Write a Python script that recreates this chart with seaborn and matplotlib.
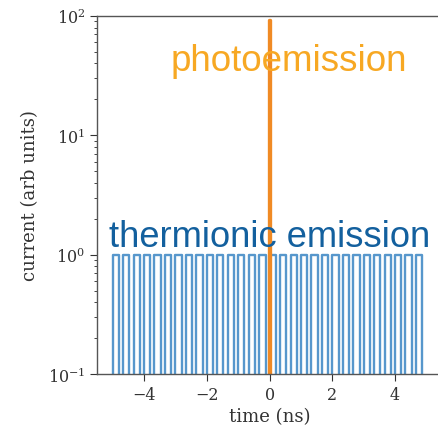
import matplotlib
matplotlib.use("agg")
import matplotlib.pyplot as plt
import numpy as np
import pandas as pd
import seaborn as sns

# thermionic emission: square pulses (start time, end time) in ns, height 1
pulse_starts = [-5.00, -4.67, -4.33, -4.00, -3.67, -3.33, -3.00, -2.67, -2.33, -2.00,
                -1.67, -1.33, -1.00, -0.67, -0.33, 0.00, 0.33, 0.67, 1.00, 1.33,
                1.67, 2.00, 2.33, 2.67, 3.00, 3.33, 3.67, 4.00, 4.33, 4.67]
pulse_width = 0.2
thermionic_high = 1.0
baseline = 0.1

# photoemission: single short spike at t = 0
photo_t = [-0.02, -0.02, 0.0, 0.0]
photo_i = [0.05, 93.0, 93.0, 0.05]

# build the step trace for the pulse train
t_pts, i_pts = [], []
for s in pulse_starts:
    t_pts += [s, s, s + pulse_width, s + pulse_width]
    i_pts += [0.05, thermionic_high, thermionic_high, 0.05]
thermo = pd.DataFrame({"time": t_pts, "current": i_pts, "order": range(len(t_pts))})
photo = pd.DataFrame({"time": photo_t, "current": photo_i, "order": range(len(photo_t))})

sns.set_style("ticks")
plt.rcParams["font.family"] = ["DejaVu Serif"]
plt.rcParams["mathtext.fontset"] = "dejavuserif"

fig = plt.figure(figsize=(4.38, 4.31), dpi=100)
ax = fig.add_axes([0.2215, 0.130, 0.788, 0.8306])

sns.lineplot(data=thermo, x="time", y="current", sort=False, estimator=None,
             color="#5797cc", lw=1.7, ax=ax)
sns.lineplot(data=photo, x="time", y="current", sort=False, estimator=None,
             color="#f08a24", lw=2.4, ax=ax)

ax.set_yscale("log")
ax.set_ylim(baseline, 100)
ax.set_xlim(-5.5, 5.5)
ax.set_xticks([-4, -2, 0, 2, 4])
ax.set_xticklabels(["\u22124", "\u22122", "0", "2", "4"])
ax.set_xlabel("time (ns)", fontsize=13, color="#333333", labelpad=3)
ax.set_ylabel("current (arb units)", fontsize=13, color="#333333", labelpad=6)
ax.tick_params(labelsize=11.5, colors="#333333")
ax.tick_params(axis="both", which="major", length=5)
for sp in ax.spines.values():
    sp.set_color("#555555")
    sp.set_linewidth(1.0)

ax.text(0.212, 0.875, "photoemission", transform=ax.transAxes, ha="left",
        va="center", fontsize=26.5, color="#f7a823", family="Liberation Sans")
ax.text(0.035, 0.385, "thermionic emission", transform=ax.transAxes, ha="left",
        va="center", fontsize=26.2, color="#13609e", family="Liberation Sans")

fig.savefig("out.png", dpi=100)
